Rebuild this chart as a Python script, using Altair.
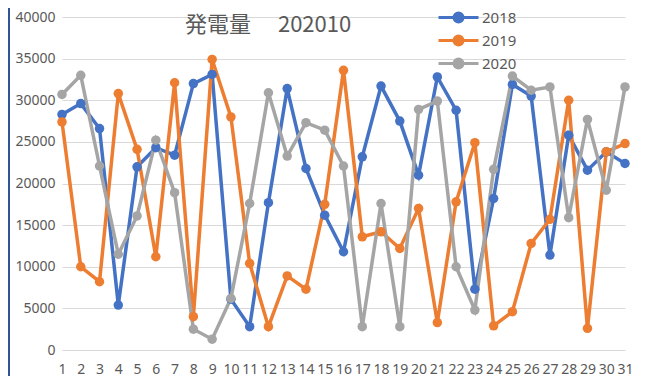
import altair as alt
import pandas as pd

days = list(range(1, 32))
series_names = ["2018", "2019", "2020"]
v2018 = [28300, 29600, 26600, 5400, 22000, 24300, 23400, 32000, 33100, 6100,
         2800, 17700, 31400, 21800, 16200, 11800, 23200, 31700, 27500, 21000,
         32800, 28800, 7300, 18200, 31900, 30500, 11400, 25800, 21600, 23800, 22400]
v2019 = [27400, 10000, 8200, 30800, 24100, 11200, 32100, 4000, 34900, 28000,
         10400, 2800, 8900, 7300, 17500, 33600, 13600, 14200, 12200, 17000,
         3300, 17800, 24900, 2900, 4600, 12800, 15700, 30000, 2600, 23800, 24800]
v2020 = [30700, 33000, 22100, 11500, 16100, 25200, 18900, 2500, 1300, 6200,
         17600, 30900, 23300, 27300, 26400, 22100, 2800, 17600, 2800, 28900,
         29900, 10000, 4800, 21700, 32900, 31200, 31600, 15900, 27700, 19200, 31600]
colors = ["#4472C4", "#ED7D31", "#A5A5A5"]
title_text = "発電量　 202010"

rows = []
for name, vals in zip(series_names, [v2018, v2019, v2020]):
    for d, v in zip(days, vals):
        rows.append({"day": d, "value": v, "series": name})
df = pd.DataFrame(rows)

font = "Noto Sans"
legend_path = ("M-2,0H-0.5 M0.5,0H2 "
               "M0.45,0A0.45,0.45,0,1,1,-0.45,0A0.45,0.45,0,1,1,0.45,0 "
               "M0.3,0A0.3,0.3,0,1,1,-0.3,0A0.3,0.3,0,1,1,0.3,0 "
               "M0.15,0A0.15,0.15,0,1,1,-0.15,0A0.15,0.15,0,1,1,0.15,0")

x_enc = alt.X("day:O",
              scale=alt.Scale(type="point", padding=0),
              axis=alt.Axis(title=None, grid=False, domain=False, labelAngle=0,
                            ticks=False, labelPadding=12, labelFontSize=14,
                            labelColor="#595959", labelFont=font,
                            labelOverlap=False))
y_enc = alt.Y("value:Q",
              scale=alt.Scale(domain=[0, 40000], nice=False),
              axis=alt.Axis(values=list(range(0, 40001, 5000)), title=None,
                            domain=False, ticks=False, labelPadding=7,
                            labelFontSize=14, labelColor="#595959",
                            labelFont=font, gridColor="#D9D9D9", format="d"))
color_enc = alt.Color("series:N",
                      scale=alt.Scale(domain=series_names, range=colors),
                      legend=alt.Legend(title=None, orient="none",
                                        legendX=385, legendY=-11, padding=0,
                                        symbolType=legend_path, symbolSize=400,
                                        symbolStrokeWidth=3, labelFontSize=15,
                                        labelColor="#595959", labelFont=font,
                                        rowPadding=1, labelOffset=12))

lines = alt.Chart(df).mark_line(strokeWidth=3.5).encode(
    x=x_enc, y=y_enc, color=color_enc)
points = alt.Chart(df).mark_point(filled=True, size=90, opacity=1).encode(
    x="day:O", y="value:Q",
    color=alt.Color("series:N", scale=alt.Scale(domain=series_names, range=colors), legend=None))

title = alt.Chart(pd.DataFrame({"t": [title_text]})).mark_text(
    align="left", baseline="middle", fontSize=22, color="#595959",
    font="Noto Sans CJK JP").encode(
    x=alt.value(123), y=alt.value(8), text="t:N")

edge = alt.Chart(pd.DataFrame({"a": [0]})).mark_rule(
    color="#2F5597", strokeWidth=2).encode(
    x=alt.value(-53), y=alt.value(-10), y2=alt.value(372))

chart = alt.layer(edge, lines, points, title).properties(
    width=563, height=333,
    padding={"left": 54, "top": 9, "right": 12, "bottom": 26},
    autosize=alt.AutoSizeParams(type="none"),
).configure_view(stroke=None)

chart.save("out.html", embed_options={"renderer": "svg", "actions": False})
